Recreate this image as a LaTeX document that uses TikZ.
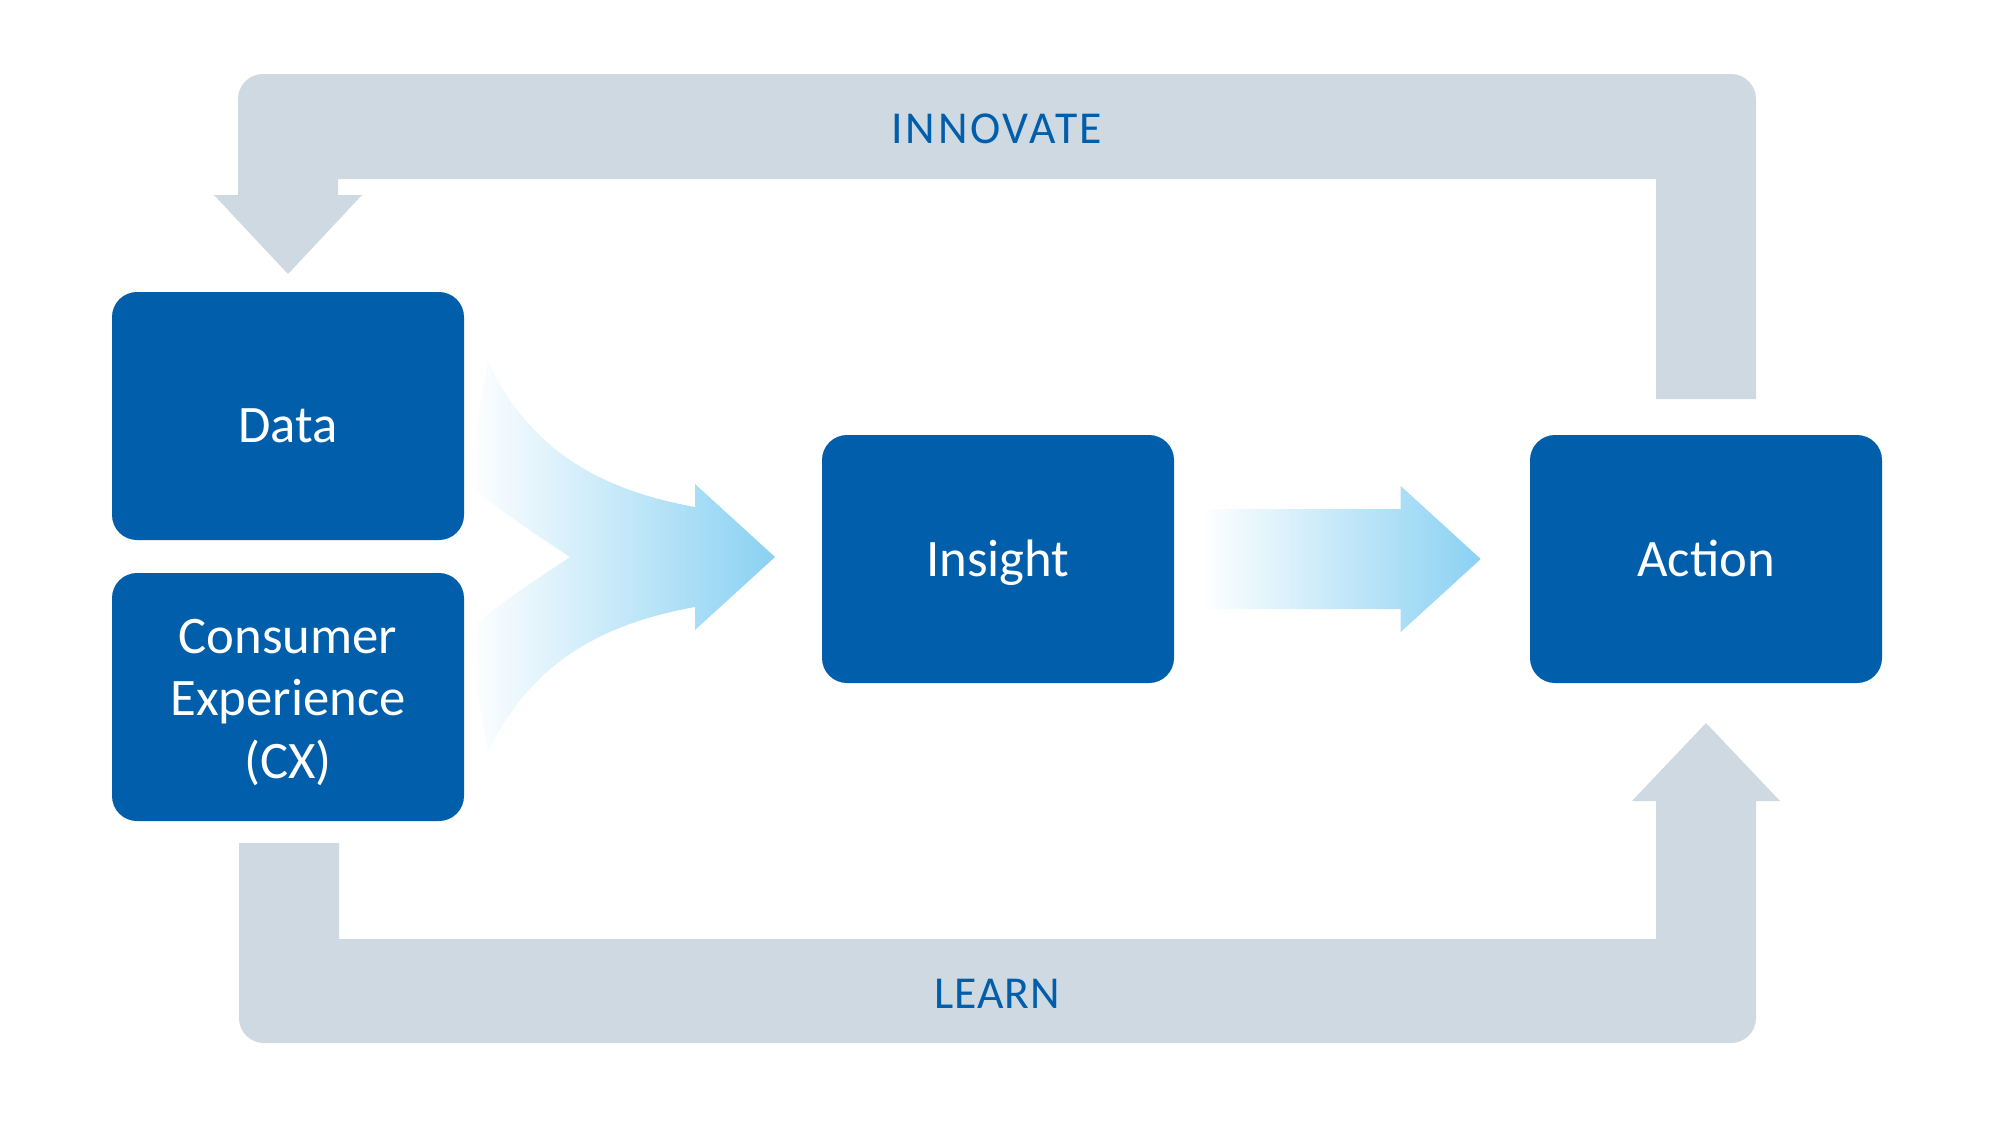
\documentclass[tikz,border=0pt]{standalone}
\usepackage{fontspec}
\setmainfont{Carlito}
\newfontfamily\bandfont[LetterSpace=2]{Carlito}
\usepackage{tikz}
\usepackage{xcolor}
\definecolor{boxblue}{HTML}{005EAA}
\definecolor{bandgrey}{HTML}{CFD9E1}
\definecolor{flowblue}{HTML}{8AD1F3}
\tikzset{
  stage/.style={fill=boxblue, text=white, rounded corners=2.5mm,
    minimum width=35.2mm, minimum height=24.8mm, align=center,
    font=\fontsize{15}{17.8}\selectfont},
  oneline/.style={text height=13pt, text depth=3pt},
  band/.style={fill=bandgrey},
  bandlabel/.style={text=boxblue, font=\bandfont\fontsize{13}{15}\selectfont},
  flow/.style={left color=white, right color=flowblue}
}

\begin{document}
\begin{tikzpicture}[x=0.1mm, y=-0.1mm]
  \useasboundingbox[fill=white] (0,0) rectangle (2001,1130);
  \fill[band] (1656,399) -- (1656,179) -- (338,179) -- (338,195) -- (362,195)
    -- (288,274) -- (214,195) -- (238,195) -- (238,150)
    [rounded corners=2.5mm] -- (238,74) -- (1756,74) -- (1756,150)
    [sharp corners] -- (1756,399) -- cycle;
  \fill[band] (239,843) -- (339,843) -- (339,939) -- (1656,939) -- (1656,801)
    -- (1632,801) -- (1706,723) -- (1780,801) -- (1756,801) -- (1756,950)
    [rounded corners=2.5mm] -- (1756,1043) -- (239,1043) -- (239,950)
    [sharp corners] -- cycle;
  \node[bandlabel] (innovate) at (997,129) {\addfontfeature{LetterSpace=6}INNOVATE};
  \node[bandlabel] (learn) at (997,994) {LEARN};

  \node[stage, text height=15pt, text depth=0pt] (data) at (288,416) {Data};
  \node[stage] (cx) at (288,697) {Consumer\rule{0pt}{12.8pt}\\Experience\\(CX)};
  \node[stage, oneline] (insight) at (998,559) {Insight};
  \node[stage, oneline] (action) at (1706,559) {Action};

  \shade[flow] (488,362) .. controls (530,450) and (600,490) .. (695,507)
    -- (695,484) -- (775,557) -- (695,630) -- (695,607)
    .. controls (600,624) and (530,664) .. (488,752)
    -- (467,633) .. controls (490,609) and (530,584) .. (570,557)
    .. controls (530,530) and (490,505) .. (467,481) -- cycle;
  \shade[flow] ([shift={(26,-50)}]insight.east) -- ++(200,0) -- ++(0,-23)
    -- ++(80,73) -- ++(-80,73) -- ++(0,-23) -- ++(-200,0) -- cycle;
\end{tikzpicture}
\end{document}
